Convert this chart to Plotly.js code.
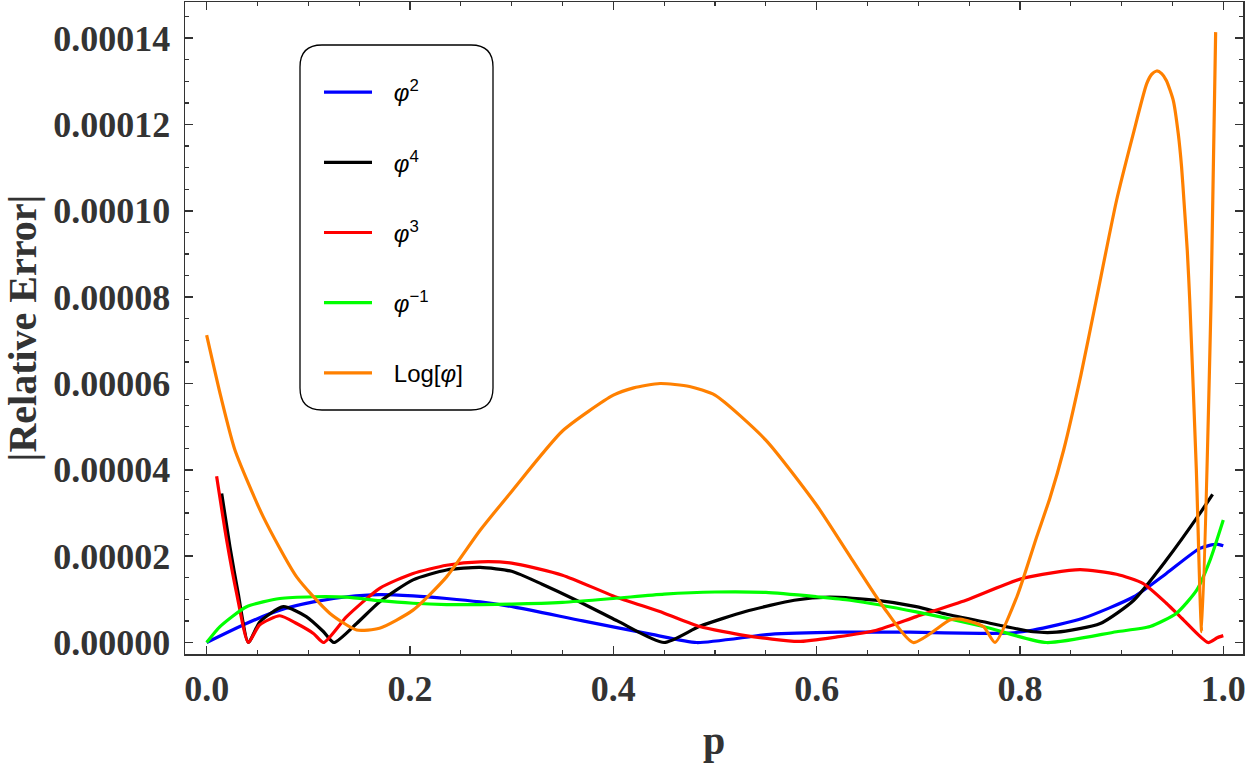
<!DOCTYPE html>
<html>
<head>
<meta charset="utf-8">
<script src="https://cdn.plot.ly/plotly-3.0.1.min.js"></script>
<style>html,body{margin:0;padding:0;background:#fff;}#chart{width:1250px;height:763px;}</style>
</head>
<body>
<div id="chart"></div>
<script>
// ---- data (y in units of 1e-6) ----
const xTickVals = [0, 0.2, 0.4, 0.6, 0.8, 1.0];
const xTickText = ["0.0", "0.2", "0.4", "0.6", "0.8", "1.0"];
const yTickVals = [0, 2e-5, 4e-5, 6e-5, 8e-5, 1e-4, 1.2e-4, 1.4e-4];
const yTickText = ["0.00000", "0.00002", "0.00004", "0.00006", "0.00008", "0.00010", "0.00012", "0.00014"];

const seriesNames = ["<i>φ</i><sup>2</sup>", "<i>φ</i><sup>4</sup>", "<i>φ</i><sup>3</sup>", "<i>φ</i><sup>−1</sup>", "Log[<i>φ</i>]"];
const seriesColors = ["#0000ff", "#000000", "#ff0000", "#00ff00", "#ff8000"];

const phi2X = [0, 0.039, 0.072, 0.105, 0.138, 0.170, 0.203, 0.236, 0.269, 0.303, 0.37, 0.438, 0.482, 0.554, 0.623, 0.692, 0.761, 0.79, 0.813, 0.862, 0.912, 0.944, 0.977, 0.9935, 1.0];
const phi2Y = [0, 4.4, 7.5, 9.4, 10.6, 11.1, 10.8, 10.2, 9.4, 8.2, 5.0, 1.9, 0, 1.9, 2.4, 2.4, 2.1, 2.2, 2.9, 5.6, 10.6, 16.0, 21.8, 22.8, 22.4];

const phi4X = [0.0148, 0.0229, 0.031, 0.041, 0.0524, 0.0754, 0.098, 0.115, 0.1252, 0.1475, 0.17, 0.203, 0.236, 0.269, 0.3, 0.33, 0.3636, 0.404, 0.45, 0.485, 0.53, 0.578, 0.613, 0.658, 0.698, 0.727, 0.764, 0.813, 0.836, 0.879, 0.912, 0.944, 0.977, 0.9895];
const phi4Y = [34.5, 22.2, 11.4, 0, 4.8, 8.3, 6.0, 2.5, 0, 4.4, 9.4, 14.5, 16.8, 17.4, 16.5, 13.5, 9.8, 5.0, 0, 3.75, 7.2, 9.8, 10.5, 9.8, 8.3, 6.6, 4.8, 2.5, 2.4, 4.4, 9.8, 19.1, 29.9, 34.3];

const phi3X = [0.0098, 0.0197, 0.0295, 0.041, 0.052, 0.072, 0.0885, 0.105, 0.115, 0.1377, 0.1705, 0.203, 0.236, 0.269, 0.3, 0.35, 0.4, 0.45, 0.485, 0.53, 0.582, 0.62, 0.658, 0.698, 0.747, 0.803, 0.859, 0.895, 0.921, 0.944, 0.961, 0.985, 0.994, 1.0];
const phi3Y = [38.5, 23.7, 11.4, 0, 4.05, 6.2, 4.4, 2.1, 0, 6.0, 12.6, 16.0, 17.9, 18.7, 18.4, 15.6, 10.8, 6.8, 3.7, 1.6, 0.25, 1.3, 2.8, 6.0, 9.8, 14.9, 16.9, 15.8, 13.7, 9.1, 5.2, 0, 1.1, 1.6];

const phiInvX = [0, 0.0131, 0.0393, 0.0721, 0.105, 0.138, 0.170, 0.203, 0.236, 0.269, 0.3, 0.35, 0.4, 0.45, 0.5, 0.55, 0.6, 0.633, 0.698, 0.764, 0.826, 0.895, 0.928, 0.954, 0.974, 0.987, 1.0];
const phiInvY = [0, 3.7, 8.3, 10.2, 10.6, 10.5, 9.7, 9.1, 8.8, 8.8, 8.9, 9.3, 10.2, 11.2, 11.7, 11.6, 10.6, 9.8, 7.1, 3.7, 0, 2.5, 3.7, 6.8, 12.2, 19.1, 28.4];

const logPhiX = [0, 0.0139, 0.0278, 0.0557, 0.0885, 0.121, 0.1475, 0.170, 0.203, 0.236, 0.269, 0.3, 0.35, 0.4, 0.42, 0.446, 0.475, 0.5, 0.55, 0.6, 0.633, 0.6655, 0.695, 0.731, 0.741, 0.764, 0.7755, 0.797, 0.8165, 0.8295, 0.843, 0.86, 0.875, 0.895, 0.9115, 0.9246, 0.9295, 0.9345, 0.9394, 0.944, 0.9508, 0.9557, 0.959, 0.9613, 0.9646, 0.967, 0.9735, 0.9788, 0.988, 0.9925];
const logPhiY = [71.2, 57, 44.6, 29.1, 15.2, 6.8, 2.9, 3.3, 7.5, 15.2, 26.0, 35, 49, 57.3, 59.0, 60.0, 59.3, 57.3, 46.9, 31.8, 19.9, 8.3, 0, 5.2, 5.4, 3.7, 0, 10.6, 24.5, 33.5, 44.6, 62.0, 79.3, 102.4, 117.9, 129.4, 131.6, 132.4, 131.8, 130.2, 125.6, 117.9, 110.1, 102.4, 90.8, 79.3, 40, 2.5, 79.3, 141.4];

// ---- build traces ----
const xs = [phi2X, phi4X, phi3X, phiInvX, logPhiX];
const ys = [phi2Y, phi4Y, phi3Y, phiInvY, logPhiY];
const gapText = "\u2002\u2009";
const traces = xs.map((x, i) => ({
  type: "scatter", mode: "lines",
  x: x, y: ys[i].map(v => v * 1e-6),
  name: gapText + seriesNames[i], legendgroup: "g" + i,
  line: {color: seriesColors[i], width: 3.2, shape: "spline", smoothing: 0.6},
  hoverinfo: "skip"
}));

// ---- layout ----
const W = 1250, H = 763;
const M = {l: 185, r: 7, t: 2, b: 109};
const pw = W - M.l - M.r, ph = H - M.t - M.b;
const px2p = px => (px - M.l) / pw;
const py2p = py => (H - M.b - py) / ph;

function roundRect(x0, y0, x1, y1, r) {
  const X0 = px2p(x0), X1 = px2p(x1), YT = py2p(y0), YB = py2p(y1);
  const rx = r / pw, ry = r / ph;
  return `M${X0+rx},${YT} L${X1-rx},${YT} Q${X1},${YT} ${X1},${YT-ry} L${X1},${YB+ry} Q${X1},${YB} ${X1-rx},${YB} ` +
         `L${X0+rx},${YB} Q${X0},${YB} ${X0},${YB+ry} L${X0},${YT-ry} Q${X0},${YT} ${X0+rx},${YT} Z`;
}

const axisColor = "#333333";
const tickFont = {family: "Liberation Serif, Times New Roman, serif", size: 36, color: axisColor, weight: "bold"};
const titleFont = {family: "Liberation Serif, Times New Roman, serif", size: 40, color: axisColor, weight: "bold"};

const common = {
  showline: true, linecolor: axisColor, linewidth: 1.5, mirror: "allticks",
  ticks: "inside", ticklen: 8, tickwidth: 1.5, tickcolor: axisColor,
  showgrid: false, zeroline: false, tickfont: tickFont, automargin: false
};

const layout = {
  width: W, height: H, margin: M,
  paper_bgcolor: "#fff", plot_bgcolor: "#fff",
  showlegend: true,
  xaxis: Object.assign({}, common, {
    range: [-0.0213, 1.0194], tickvals: xTickVals, ticktext: xTickText,
    minor: {dtick: 0.05, tick0: 0, ticks: "inside", ticklen: 4, tickwidth: 1.2, tickcolor: axisColor},
    ticklabelstandoff: 2,
    title: {text: "p", font: titleFont, standoff: 26}
  }),
  yaxis: Object.assign({}, common, {
    range: [-2.66e-6, 1.4838e-4], tickvals: yTickVals, ticktext: yTickText,
    minor: {dtick: 5e-6, tick0: 0, ticks: "inside", ticklen: 4, tickwidth: 1.2, tickcolor: axisColor},
    ticklabelstandoff: 6,
    title: {text: "|Relative Error|", font: titleFont, standoff: 14}
  }),
  legend: {
    x: px2p(319), y: py2p(70), xanchor: "left", yanchor: "top",
    bgcolor: "rgba(0,0,0,0)", borderwidth: 0,
    font: {family: "Liberation Sans, Arial, sans-serif", size: 24, color: "#000"},
    tracegroupgap: 36, itemwidth: 48
  },
  shapes: [{
    type: "path", xref: "paper", yref: "paper", layer: "above",
    path: roundRect(300, 45, 493, 410, 22),
    line: {color: "#000", width: 1.3}, fillcolor: "rgba(255,255,255,0)"
  }]
};

Plotly.newPlot("chart", traces, layout, {displayModeBar: false, staticPlot: true});
</script>
</body>
</html>
